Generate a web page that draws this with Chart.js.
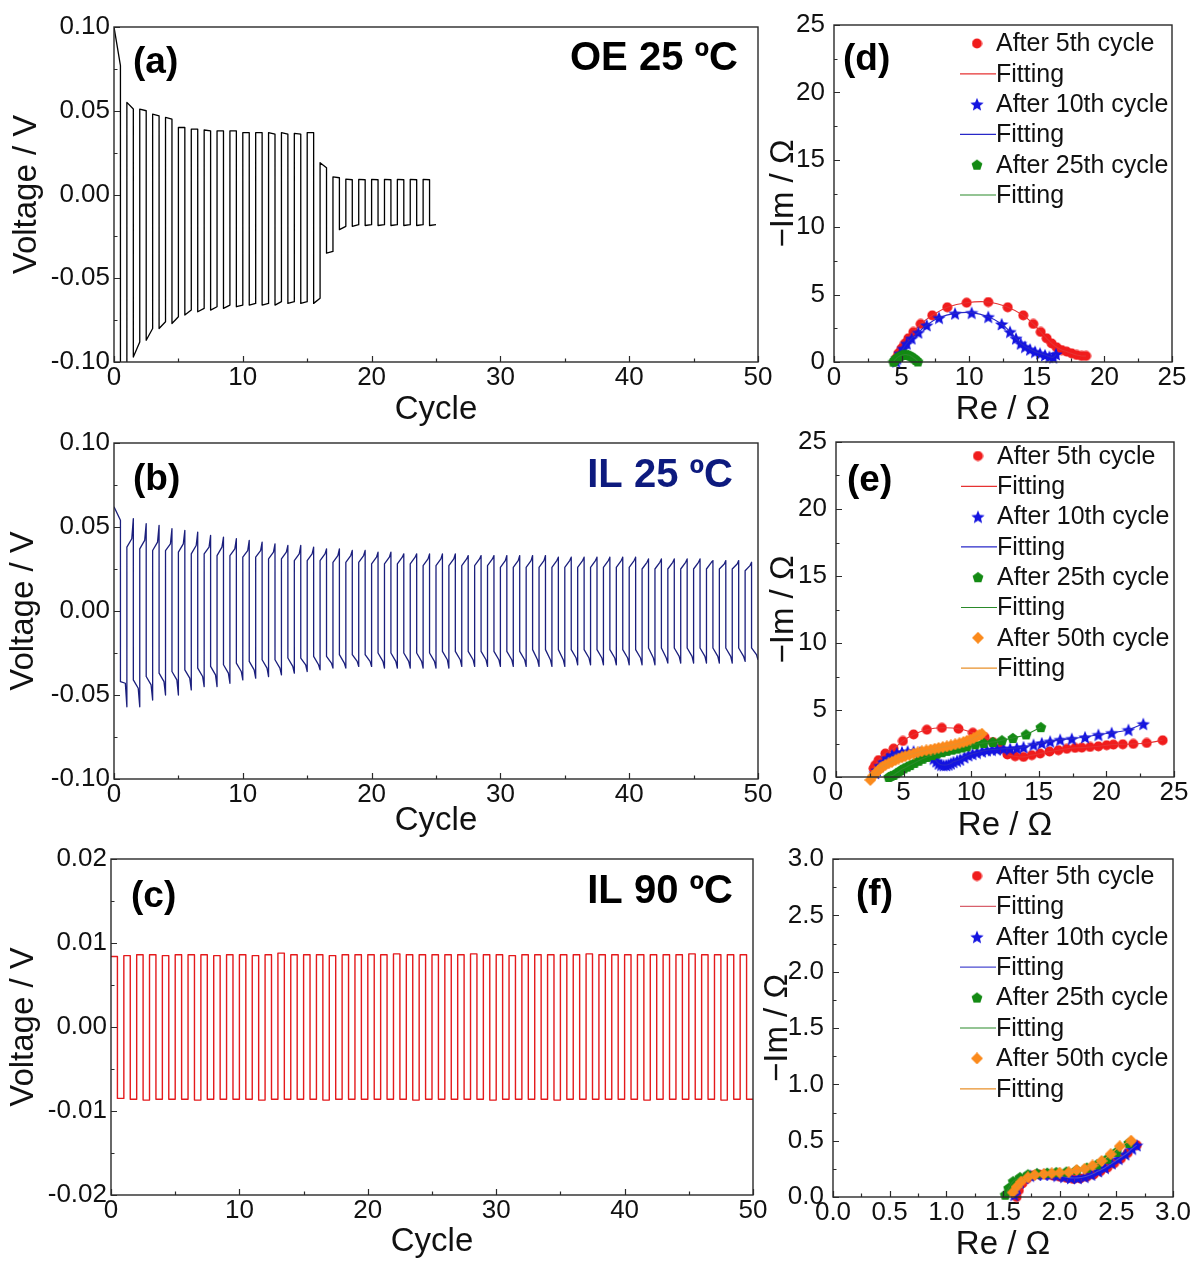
<!DOCTYPE html>
<html>
<head>
<meta charset="utf-8">
<script src="https://cdn.jsdelivr.net/npm/chart.js@4.4.1/dist/chart.umd.min.js"></script>
<style>
  html, body { margin: 0; padding: 0; background: #fff; overflow: hidden; }
  body { width: 1193px; height: 1261px; position: relative; }
  .panel { position: absolute; }
</style>
</head>
<body>
<script>
const FONT = '"Liberation Sans", Arial, sans-serif';

// ---- voltage profiles: per-cycle levels (V) ----
// (a) organic electrolyte, 25 C (25 cycles)
const oeTopStart = [0.100, 0.055, 0.051, 0.048, 0.046, 0.040, 0.039, 0.0385, 0.038, 0.038,
                    0.037, 0.037, 0.037, 0.037, 0.0365, 0.037, 0.019, 0.0105, 0.0092, 0.009,
                    0.009, 0.009, 0.009, 0.009, 0.009];
const oeTopEnd   = [0.077, 0.051, 0.050, 0.047, 0.045, 0.040, 0.039, 0.038, 0.038, 0.038,
                    0.037, 0.037, 0.036, 0.036, 0.036, 0.037, 0.016, 0.0100, 0.0088, 0.0088,
                    0.0088, 0.0088, 0.0088, 0.0088, 0.0088];
const oeBotStart = [-0.110, -0.097, -0.087, -0.080, -0.077, -0.072, -0.070, -0.069, -0.068, -0.067,
                    -0.066, -0.066, -0.066, -0.065, -0.065, -0.065, -0.035, -0.021, -0.019, -0.0185,
                    -0.0185, -0.0185, -0.0185, -0.0185, -0.0185];
const oeBotEnd   = [-0.110, -0.088, -0.080, -0.076, -0.073, -0.069, -0.068, -0.067, -0.066, -0.066,
                    -0.065, -0.065, -0.064, -0.064, -0.064, -0.062, -0.034, -0.019, -0.018, -0.018,
                    -0.018, -0.018, -0.018, -0.018, -0.018];

// (b) ionic liquid, 25 C (50 cycles)
const ilRise   = [0.062, 0.038, 0.037, 0.036, 0.036, 0.035, 0.034, 0.034, 0.033, 0.033,
                  0.032, 0.032, 0.031, 0.031, 0.030, 0.030, 0.030, 0.029, 0.029, 0.029,
                  0.028, 0.028, 0.028, 0.028, 0.027, 0.027, 0.027, 0.027, 0.027, 0.027,
                  0.026, 0.026, 0.026, 0.026, 0.026, 0.026, 0.026, 0.026, 0.026, 0.026,
                  0.026, 0.025, 0.025, 0.025, 0.025, 0.025, 0.025, 0.025, 0.025, 0.024];
const ilKnee   = [0.056, 0.043, 0.042, 0.041, 0.040, 0.040, 0.039, 0.038, 0.038, 0.037,
                  0.036, 0.036, 0.035, 0.035, 0.034, 0.034, 0.034, 0.033, 0.033, 0.033,
                  0.032, 0.032, 0.032, 0.032, 0.031, 0.031, 0.031, 0.031, 0.031, 0.031,
                  0.030, 0.030, 0.030, 0.030, 0.030, 0.030, 0.030, 0.030, 0.030, 0.030,
                  0.030, 0.029, 0.029, 0.029, 0.029, 0.029, 0.029, 0.028, 0.028, 0.027];
const ilPeak   = [0.054, 0.055, 0.052, 0.051, 0.049, 0.048, 0.047, 0.045, 0.044, 0.043,
                  0.042, 0.041, 0.040, 0.039, 0.039, 0.038, 0.037, 0.037, 0.036, 0.036,
                  0.035, 0.035, 0.034, 0.034, 0.034, 0.034, 0.034, 0.033, 0.033, 0.033,
                  0.033, 0.033, 0.033, 0.033, 0.032, 0.032, 0.032, 0.032, 0.032, 0.032,
                  0.032, 0.031, 0.031, 0.031, 0.031, 0.031, 0.030, 0.030, 0.030, 0.029];
const ilDrop   = [-0.042, -0.041, -0.039, -0.037, -0.036, -0.035, -0.034, -0.033, -0.032, -0.031,
                  -0.030, -0.029, -0.029, -0.028, -0.028, -0.027, -0.027, -0.026, -0.026, -0.026,
                  -0.025, -0.025, -0.025, -0.025, -0.025, -0.024, -0.024, -0.024, -0.024, -0.024,
                  -0.024, -0.024, -0.023, -0.023, -0.023, -0.023, -0.023, -0.023, -0.023, -0.023,
                  -0.023, -0.022, -0.022, -0.022, -0.022, -0.022, -0.022, -0.022, -0.022, -0.022];
const ilSag    = [-0.043, -0.046, -0.044, -0.042, -0.041, -0.040, -0.039, -0.038, -0.037, -0.036,
                  -0.035, -0.034, -0.034, -0.033, -0.032, -0.032, -0.031, -0.031, -0.030, -0.030,
                  -0.030, -0.030, -0.030, -0.030, -0.030, -0.029, -0.029, -0.029, -0.029, -0.029,
                  -0.029, -0.029, -0.029, -0.029, -0.029, -0.028, -0.028, -0.028, -0.028, -0.028,
                  -0.028, -0.028, -0.028, -0.027, -0.027, -0.027, -0.027, -0.027, -0.027, -0.026];
const ilTrough = [-0.057, -0.057, -0.053, -0.050, -0.050, -0.047, -0.045, -0.045, -0.043, -0.041,
                  -0.040, -0.039, -0.038, -0.037, -0.036, -0.035, -0.034, -0.034, -0.033, -0.033,
                  -0.034, -0.034, -0.034, -0.034, -0.034, -0.034, -0.033, -0.033, -0.033, -0.033,
                  -0.033, -0.033, -0.033, -0.033, -0.033, -0.032, -0.032, -0.032, -0.032, -0.032,
                  -0.032, -0.032, -0.031, -0.031, -0.031, -0.031, -0.031, -0.031, -0.030, -0.029];

// (c) ionic liquid, 90 C (50 cycles)
const htTop = [0.0084, 0.0085, 0.0086, 0.0086, 0.0085, 0.0086, 0.0086, 0.0086, 0.0085, 0.0086,
               0.0086, 0.0085, 0.0086, 0.0088, 0.0086, 0.0086, 0.0086, 0.0085, 0.0086, 0.0086,
               0.0086, 0.0086, 0.0087, 0.0086, 0.0086, 0.0086, 0.0086, 0.0086, 0.0087, 0.0086,
               0.0086, 0.0085, 0.0086, 0.0086, 0.0086, 0.0086, 0.0086, 0.0087, 0.0086, 0.0086,
               0.0086, 0.0086, 0.0086, 0.0086, 0.0086, 0.0087, 0.0086, 0.0086, 0.0086, 0.0086];
const htBot = [-0.0085, -0.0086, -0.0087, -0.0086, -0.0086, -0.0086, -0.0087, -0.0086, -0.0086, -0.0086,
               -0.0086, -0.0087, -0.0086, -0.0086, -0.0086, -0.0086, -0.0087, -0.0086, -0.0086, -0.0086,
               -0.0086, -0.0086, -0.0086, -0.0087, -0.0086, -0.0086, -0.0086, -0.0086, -0.0086, -0.0087,
               -0.0086, -0.0086, -0.0086, -0.0086, -0.0087, -0.0086, -0.0086, -0.0086, -0.0086, -0.0086,
               -0.0086, -0.0087, -0.0086, -0.0086, -0.0086, -0.0086, -0.0086, -0.0087, -0.0086, -0.0086];

// ---- impedance spectra [Re, -Im] (ohm) ----
const d5th  = [[4.48,0.05],[4.59,0.27],[4.76,0.64],[5.0,1.01],[5.25,1.38],[5.5,1.76],[5.87,2.23],[6.41,2.82],
               [7.27,3.46],[8.38,4.06],[9.81,4.4],[11.41,4.45],[12.85,4.06],[14.0,3.46],[14.74,2.82],
               [15.29,2.23],[15.73,1.76],[16.1,1.38],[16.47,1.09],[16.84,0.89],[17.21,0.77],[17.58,0.64],
               [17.95,0.52],[18.32,0.45],[18.64,0.45]];
const d10th = [[4.6,0.05],[4.68,0.27],[4.88,0.64],[5.13,1.01],[5.38,1.38],[5.74,1.76],[6.24,2.2],[6.86,2.74],
               [7.77,3.29],[8.95,3.61],[10.18,3.66],[11.41,3.36],[12.4,2.82],[13.02,2.25],[13.46,1.76],
               [13.81,1.38],[14.13,1.14],[14.5,0.94],[14.87,0.77],[15.24,0.64],[15.61,0.52],[15.93,0.4],
               [16.22,0.35],[16.42,0.59]];
const d25th = [[4.4,0.02],[4.5,0.15],[4.62,0.28],[4.75,0.38],[4.9,0.46],[5.05,0.52],[5.2,0.55],[5.35,0.55],
               [5.5,0.52],[5.65,0.46],[5.8,0.37],[5.95,0.26],[6.08,0.15],[6.2,0.04]];

const e5th  = [[2.78,0.64],[2.9,0.89],[3.15,1.26],[3.65,1.75],[4.26,2.12],[4.95,2.69],[5.74,3.18],[6.72,3.53],
               [7.83,3.67],[9.06,3.6],[10.12,3.3],[10.99,2.98],[11.6,2.61],[12.14,2.12],[12.68,1.68],
               [13.25,1.55],[13.87,1.5],[14.48,1.63],[15.1,1.75],[15.79,1.9],[16.45,2.0],[17.07,2.1],
               [17.68,2.17],[18.18,2.19],[18.79,2.24],[19.41,2.29],[20.02,2.37],[20.52,2.42],[21.21,2.44],
               [21.99,2.47],[22.98,2.54],[24.16,2.74]];
const e10th = [[2.9,0.3],[3.03,0.52],[3.25,0.85],[3.52,1.13],[3.8,1.4],[4.14,1.63],[4.5,1.78],[4.88,1.87],
               [5.3,1.92],[5.74,1.92],[6.2,1.85],[6.6,1.75],[6.95,1.58],[7.22,1.38],[7.42,1.18],[7.59,1.01],
               [7.78,0.92],[7.96,0.89],[8.15,0.9],[8.33,0.94],[8.5,1.02],[8.69,1.13],[8.95,1.22],[9.19,1.31],
               [9.5,1.48],[9.8,1.63],[10.1,1.73],[10.42,1.82],[10.8,1.92],[11.16,2.0],[11.53,2.04],
               [11.9,2.07],[12.39,2.12],[12.88,2.12],[13.37,2.17],[13.87,2.24],[14.61,2.42],[15.22,2.54],
               [15.84,2.66],[16.58,2.79],[17.44,2.86],[18.42,2.98],[19.41,3.16],[20.39,3.3],[21.63,3.53],
               [22.73,3.97]];
const e25th = [[3.9,0.0],[4.05,0.08],[4.26,0.15],[4.45,0.28],[4.63,0.39],[4.8,0.52],[5.0,0.64],[5.25,0.77],
               [5.49,0.89],[5.8,1.05],[6.11,1.21],[6.4,1.36],[6.72,1.5],[7.1,1.63],[7.46,1.75],[7.83,1.85],
               [8.2,1.95],[8.57,2.04],[8.94,2.12],[9.3,2.2],[9.68,2.29],[10.3,2.44],[10.91,2.54],
               [11.6,2.61],[12.27,2.74],[13.08,2.91],[14.06,3.18],[15.15,3.72]];
const e50th = [[2.54,-0.22],[2.7,0.05],[2.91,0.27],[3.1,0.45],[3.28,0.64],[3.45,0.78],[3.65,0.89],[3.9,1.02],
               [4.14,1.13],[4.4,1.26],[4.63,1.38],[4.88,1.47],[5.12,1.55],[5.43,1.65],[5.74,1.75],
               [6.05,1.84],[6.35,1.92],[6.68,1.99],[7.0,2.05],[7.3,2.11],[7.59,2.17],[7.9,2.23],[8.2,2.29],
               [8.5,2.36],[8.82,2.44],[9.13,2.52],[9.43,2.61],[9.68,2.7],[9.93,2.79],[10.18,2.9],
               [10.42,3.03],[10.6,3.13],[10.79,3.23]];

const f5th  = [[1.62,0.0],[1.64,0.06],[1.67,0.12],[1.71,0.16],[1.76,0.19],[1.82,0.2],[1.88,0.2],[1.94,0.19],
               [2.0,0.18],[2.06,0.17],[2.12,0.16],[2.18,0.165],[2.24,0.18],[2.3,0.2],[2.36,0.23],
               [2.42,0.26],[2.48,0.3],[2.54,0.34],[2.6,0.39],[2.68,0.46]];
const f10th = [[1.6,0.02],[1.62,0.08],[1.65,0.13],[1.69,0.17],[1.74,0.19],[1.8,0.2],[1.86,0.2],[1.92,0.2],
               [1.98,0.19],[2.04,0.18],[2.1,0.17],[2.16,0.17],[2.22,0.18],[2.28,0.2],[2.34,0.23],
               [2.4,0.26],[2.46,0.3],[2.52,0.34],[2.58,0.38],[2.64,0.43],[2.68,0.46]];
const f25th = [[1.52,0.02],[1.55,0.08],[1.59,0.14],[1.65,0.175],[1.72,0.2],[1.8,0.21],[1.89,0.215],
               [1.97,0.22],[2.06,0.225],[2.15,0.24],[2.24,0.26],[2.33,0.29],[2.42,0.34],[2.5,0.4],
               [2.61,0.48]];
const f50th = [[1.585,0.04],[1.62,0.09],[1.66,0.136],[1.72,0.175],[1.78,0.195],[1.86,0.204],[1.93,0.21],
               [2.0,0.216],[2.08,0.22],[2.15,0.24],[2.22,0.25],[2.29,0.28],[2.37,0.32],[2.45,0.38],
               [2.53,0.45],[2.63,0.5]];

// ---- tick values ----
const cycleTicks = [0, 10, 20, 30, 40, 50];
const voltTicks = [-0.10, -0.05, 0, 0.05, 0.10];
const voltTicksHT = [-0.02, -0.01, 0, 0.01, 0.02];
const ohmTicks = [0, 5, 10, 15, 20, 25];
const ohmTicksHT = [0, 0.5, 1.0, 1.5, 2.0, 2.5, 3.0];

// one point per level and cycle; phase is the position of that level inside the cycle
function cycleTrace(levels) {
  const pts = [];
  const count = levels[0][1].length;
  for (let n = 0; n < count; n++) {
    levels.forEach(([phase, values]) => pts.push({x: n + phase, y: values[n]}));
  }
  return pts;
}

function toXY(arr) { return arr.map(p => ({x: p[0], y: p[1]})); }

// filled marker sprites used as point styles
function marker(shape, color, size) {
  const c = document.createElement('canvas');
  c.width = c.height = size;
  const g = c.getContext('2d');
  const r = size / 2;
  g.fillStyle = color;
  g.beginPath();
  if (shape === 'star') {
    for (let i = 0; i < 10; i++) {
      const a = -Math.PI / 2 + i * Math.PI / 5;
      const rr = i % 2 ? r * 0.45 : r;
      g.lineTo(r + rr * Math.cos(a), r + 0.8 + rr * Math.sin(a));
    }
  } else if (shape === 'pentagon') {
    for (let i = 0; i < 5; i++) {
      const a = -Math.PI / 2 + i * 2 * Math.PI / 5;
      g.lineTo(r + r * 0.95 * Math.cos(a), r + 0.5 + r * 0.95 * Math.sin(a));
    }
  } else if (shape === 'diamond') {
    g.moveTo(r, 0); g.lineTo(size, r); g.lineTo(r, size); g.lineTo(0, r);
  } else {
    g.arc(r, r, r - 0.5, 0, Math.PI * 2);
  }
  g.closePath();
  g.fill();
  return c;
}

const RED = '#f01c1c', BLUE = '#1414e0', GREEN = '#138a13', ORANGE = '#fb8a1c';
const mkRed = marker('circle', RED, 11);
const mkBlue = marker('star', BLUE, 14);
const mkGreen = marker('pentagon', GREEN, 12);
const mkOrange = marker('diamond', ORANGE, 12);

// frame, inward ticks, panel captions and legend
const framePlugin = {
  id: 'frame',
  afterDraw(chart, args, o) {
    const {ctx, chartArea: a} = chart;
    const xs = chart.scales.x, ys = chart.scales.y;
    const ox = o.origin[0], oy = o.origin[1];
    ctx.save();
    ctx.strokeStyle = '#2a2a2a';
    ctx.lineWidth = 1.2;
    ctx.beginPath();
    const xt = xs.ticks.map(t => t.value);
    xt.forEach((v, i) => {
      const px = Math.round(xs.getPixelForValue(v)) + 0.5;
      ctx.moveTo(px, a.bottom); ctx.lineTo(px, a.bottom - 6);
      if (i < xt.length - 1) {
        const pm = Math.round(xs.getPixelForValue((v + xt[i + 1]) / 2)) + 0.5;
        ctx.moveTo(pm, a.bottom); ctx.lineTo(pm, a.bottom - 3.5);
      }
    });
    const yt = ys.ticks.map(t => t.value);
    yt.forEach((v, i) => {
      const py = Math.round(ys.getPixelForValue(v)) + 0.5;
      ctx.moveTo(a.left, py); ctx.lineTo(a.left + 6, py);
      if (i < yt.length - 1) {
        const pm = Math.round(ys.getPixelForValue((v + yt[i + 1]) / 2)) + 0.5;
        ctx.moveTo(a.left, pm); ctx.lineTo(a.left + 3.5, pm);
      }
    });
    ctx.stroke();
    ctx.lineWidth = 1.4;
    ctx.strokeRect(a.left, a.top, a.right - a.left, a.bottom - a.top);

    (o.texts || []).forEach(t => {
      ctx.font = t.font;
      ctx.fillStyle = t.color || '#000';
      ctx.textAlign = t.align || 'left';
      ctx.textBaseline = 'alphabetic';
      ctx.fillText(t.text, t.x - ox, t.y - oy);
    });

    if (o.legend) {
      const L = o.legend;
      ctx.font = '25px ' + FONT;
      ctx.textAlign = 'left';
      ctx.textBaseline = 'middle';
      chart.data.datasets.forEach((ds, i) => {
        const y = L.y + i * L.dy - oy;
        const mx = L.mx - ox, tx = L.tx - ox;
        if (ds.showLine) {
          ctx.strokeStyle = ds.borderColor;
          ctx.lineWidth = 1.2;
          ctx.beginPath(); ctx.moveTo(mx - 17, y); ctx.lineTo(tx, y); ctx.stroke();
        } else {
          const img = ds.pointStyle;
          ctx.drawImage(img, mx - img.width / 2, y - img.height / 2);
        }
        ctx.fillStyle = '#111';
        ctx.fillText(ds.label, tx, y + 1);
      });
    }
    ctx.restore();
  }
};

function axis(min, max, ticks, dec, size, pad, title, titlePad) {
  return {
    type: 'linear', min: min, max: max,
    afterBuildTicks: s => { s.ticks = ticks.map(v => ({value: v})); },
    afterFit: s => { if (s.isHorizontal()) s.height = size; else s.width = size; },
    grid: {display: false, drawTicks: false},
    border: {display: false},
    ticks: {
      font: {family: FONT, size: 26, lineHeight: 1}, color: '#111', padding: pad,
      maxRotation: 0, autoSkip: false, callback: v => v.toFixed(dec)
    },
    title: {
      display: true, text: title, color: '#111',
      font: {family: FONT, size: 33, lineHeight: 1},
      padding: {top: titlePad, bottom: titlePad}
    }
  };
}

function makePanel(box, pad, scales, datasets, frame) {
  const div = document.createElement('div');
  div.className = 'panel';
  div.style.left = box[0] + 'px';
  div.style.top = box[1] + 'px';
  div.style.width = box[2] + 'px';
  div.style.height = box[3] + 'px';
  const cv = document.createElement('canvas');
  div.appendChild(cv);
  document.body.appendChild(div);
  frame.origin = [box[0], box[1]];
  return new Chart(cv, {
    type: 'scatter',
    data: {datasets: datasets},
    options: {
      responsive: true,
      maintainAspectRatio: false,
      devicePixelRatio: 1,
      animation: false,
      events: [],
      layout: {padding: {left: 0, top: pad[0], right: pad[1], bottom: 0}},
      scales: scales,
      plugins: {legend: {display: false}, tooltip: {enabled: false}, frame: frame}
    },
    plugins: [framePlugin]
  });
}

function traceSet(label, data, color, width) {
  return {label: label, data: data, showLine: true, borderColor: color, borderWidth: width,
          pointRadius: 0, tension: 0, borderJoinStyle: 'round'};
}

function eisSets(series) {
  const out = [];
  series.forEach((s, i) => {
    const pts = toXY(s.pts);
    const rank = (series.length - 1 - i) * 2;
    out.push({label: s.label, data: pts, showLine: false, pointStyle: s.marker, pointRadius: 5,
              pointBorderWidth: 0, order: rank + 1, clip: 10});
    out.push({label: 'Fitting', data: pts, showLine: true, borderColor: s.fit, borderWidth: 1.1,
              pointRadius: 0, tension: 0.4, order: rank, clip: 10});
  });
  return out;
}

const boldCap = 'bold 40px ' + FONT;
const boldTag = 'bold 37px ' + FONT;

// (a)
makePanel([0, 0, 790, 430], [27, 32], {
  x: axis(0, 50, cycleTicks, 0, 68, 3, 'Cycle', 4),
  y: axis(-0.10, 0.10, voltTicks, 2, 114, 4, 'Voltage / V', 10)
}, [traceSet('OE 25 ºC', cycleTrace([[0, oeTopStart], [0.5, oeTopEnd], [0.5, oeBotStart], [1, oeBotEnd]]),
             '#000', 1.3)], {
  texts: [{text: '(a)', x: 133, y: 73, font: boldTag},
          {text: 'OE 25 ºC', x: 738, y: 70, font: boldCap, align: 'right'}]
});

// (b)
makePanel([0, 420, 790, 425], [23, 32], {
  x: axis(0, 50, cycleTicks, 0, 66, 3, 'Cycle', 8),
  y: axis(-0.10, 0.10, voltTicks, 2, 114, 4, 'Voltage / V', 7)
}, [traceSet('IL 25 ºC', cycleTrace([[0, ilRise], [0.38, ilKnee], [0.5, ilPeak],
                                     [0.5, ilDrop], [0.88, ilSag], [1, ilTrough]]), '#1b1f7d', 1.3)], {
  texts: [{text: '(b)', x: 133, y: 490, font: boldTag},
          {text: 'IL 25 ºC', x: 733, y: 487, font: boldCap, align: 'right', color: '#0d1a7e'}]
});

// (c)
makePanel([0, 835, 790, 426], [24, 37], {
  x: axis(0, 50, cycleTicks, 0, 66, 3, 'Cycle', 3),
  y: axis(-0.02, 0.02, voltTicksHT, 2, 111, 4, 'Voltage / V', 7)
}, [traceSet('IL 90 ºC', cycleTrace([[0, htTop], [0.5, htTop], [0.5, htBot], [1, htBot]]), '#e41a1c', 1.4)], {
  texts: [{text: '(c)', x: 131, y: 907, font: boldTag},
          {text: 'IL 90 ºC', x: 733, y: 903, font: boldCap, align: 'right'}]
});

// (d)
makePanel([767, 0, 440, 430], [25, 35], {
  x: axis(0, 25, ohmTicks, 0, 68, 3, 'Re / Ω', 4),
  y: axis(0, 25, ohmTicks, 0, 67, 9, '−Im / Ω', 0)
}, eisSets([
  {label: 'After 5th cycle', pts: d5th, marker: mkRed, fit: '#e63232'},
  {label: 'After 10th cycle', pts: d10th, marker: mkBlue, fit: '#2828c8'},
  {label: 'After 25th cycle', pts: d25th, marker: mkGreen, fit: '#2a8a2a'}
]), {
  texts: [{text: '(d)', x: 843, y: 70, font: boldTag}],
  legend: {mx: 977, tx: 996, y: 43.5, dy: 30.3}
});

// (e)
makePanel([767, 420, 440, 425], [19, 33], {
  x: axis(0, 25, ohmTicks, 0, 68, 3, 'Re / Ω', 3),
  y: axis(0, 25, ohmTicks, 0, 69, 9, '−Im / Ω', 0)
}, eisSets([
  {label: 'After 5th cycle', pts: e5th, marker: mkRed, fit: '#e63232'},
  {label: 'After 10th cycle', pts: e10th, marker: mkBlue, fit: '#2828c8'},
  {label: 'After 25th cycle', pts: e25th, marker: mkGreen, fit: '#2a8a2a'},
  {label: 'After 50th cycle', pts: e50th, marker: mkOrange, fit: '#e8902a'}
]), {
  texts: [{text: '(e)', x: 847, y: 491, font: boldTag}],
  legend: {mx: 978, tx: 997, y: 456, dy: 30.3}
});

// (f)
makePanel([761, 835, 440, 426], [24, 28], {
  x: axis(0, 3, ohmTicksHT, 1, 64, 3, 'Re / Ω', 0),
  y: axis(0, 3, ohmTicksHT, 1, 72, 9, '−Im / Ω', 0)
}, eisSets([
  {label: 'After 5th cycle', pts: f5th, marker: mkRed, fit: '#d8606c'},
  {label: 'After 10th cycle', pts: f10th, marker: mkBlue, fit: '#4a4ad0'},
  {label: 'After 25th cycle', pts: f25th, marker: mkGreen, fit: '#2a8a2a'},
  {label: 'After 50th cycle', pts: f50th, marker: mkOrange, fit: '#e8902a'}
]), {
  texts: [{text: '(f)', x: 856, y: 905, font: boldTag}],
  legend: {mx: 977, tx: 996, y: 876, dy: 30.4}
});
</script>
</body>
</html>
